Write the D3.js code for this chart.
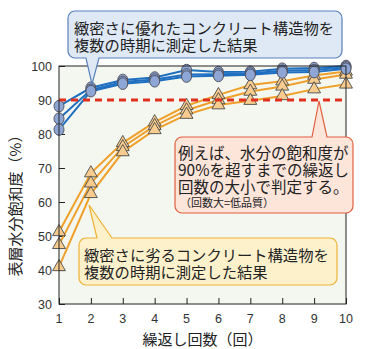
<!DOCTYPE html>
<html>
<head>
<meta charset="utf-8">
<script src="https://cdn.jsdelivr.net/npm/d3@7"></script>
<style>
  body { margin: 0; background: #fff; }
  svg { display: block; }
</style>
</head>
<body>
<svg class="chart" width="365" height="349"></svg>
<script>
// data
var cycles = [1, 2, 3, 4, 5, 6, 7, 8, 9, 10];
var goodA = [88.2, 93.6, 95.9, 96.6, 98.8, 98.2, 98.3, 99.2, 99.4, 100];
var goodB = [84.5, 93.0, 95.3, 96.0, 97.5, 97.6, 97.8, 98.6, 98.8, 99.6];
var goodC = [81.3, 92.6, 94.8, 95.5, 96.9, 97.1, 97.4, 98.1, 98.2, 99.2];
var poorA = [51.2, 68.5, 77.4, 83.5, 88.3, 91.5, 94.4, 95.5, 97.2, 98.4];
var poorB = [47.4, 65.5, 76.2, 82.4, 87.0, 90.0, 92.5, 94.0, 96.0, 97.5];
var poorC = [40.9, 62.4, 74.7, 81.2, 85.7, 88.5, 89.8, 91.2, 93.2, 94.6];
var yTicks = [30, 40, 50, 60, 70, 80, 90, 100];
var threshold = 90;

var jp = "'Noto Sans CJK JP', sans-serif";
var num = "'Liberation Sans', Arial, sans-serif";

var svg = d3.select(".chart");

var plotL = 59, plotR = 346, plotT = 66, plotB = 304;

var x = d3.scaleLinear().domain([1, 10]).range([plotL, plotR]);
var y = d3.scaleLinear().domain([30, 100]).range([plotB, plotT]);

// plot background
svg.append("rect")
    .attr("x", plotL)
    .attr("y", plotT)
    .attr("width", plotR - plotL)
    .attr("height", plotB - plotT)
    .attr("fill", "#f3f7ef");

// axes (ticks inward)
svg.append("g")
    .attr("transform", `translate(0, ${plotB})`)
    .call(d3.axisTop(x).tickValues(cycles).tickSize(6).tickFormat(""))
    .call(g => g.select(".domain").remove())
    .selectAll("line").attr("stroke", "#222");

svg.append("g")
    .attr("transform", `translate(${plotL}, 0)`)
    .call(d3.axisRight(y).tickValues(yTicks).tickSize(6).tickFormat(""))
    .call(g => g.select(".domain").remove())
    .selectAll("line").attr("stroke", "#222");

svg.selectAll(".xlab")
    .data(cycles)
    .join("text")
    .attr("class", "xlab")
    .attr("x", d => x(d))
    .attr("y", 323)
    .attr("text-anchor", "middle")
    .attr("font-family", num)
    .attr("font-size", "12.5px")
    .attr("fill", "#333")
    .text(d => d);

svg.selectAll(".ylab")
    .data(yTicks)
    .join("text")
    .attr("class", "ylab")
    .attr("x", 52)
    .attr("y", d => y(d) + 4.5)
    .attr("text-anchor", "end")
    .attr("font-family", num)
    .attr("font-size", "12.5px")
    .attr("fill", "#333")
    .text(d => d);

svg.append("text")
    .attr("x", (plotL + plotR) / 2)
    .attr("y", 345)
    .attr("text-anchor", "middle")
    .attr("font-family", jp)
    .attr("font-size", "15px")
    .attr("fill", "#222")
    .text("繰返し回数（回）");

svg.append("text")
    .attr("transform", "translate(21, 202) rotate(-90)")
    .attr("text-anchor", "middle")
    .attr("font-family", jp)
    .attr("font-size", "15px")
    .attr("fill", "#222")
    .text("表層水分飽和度（%）");

var line = d3.line().x((d, i) => x(cycles[i])).y(d => y(d));

// poor concrete (orange)
[poorA, poorB, poorC].forEach(function (s) {
    svg.append("path")
        .attr("d", line(s))
        .attr("fill", "none")
        .attr("stroke", "#f0a02a")
        .attr("stroke-width", 2);
});
var tri = d3.symbol().type(d3.symbolTriangle).size(72);
[poorA, poorB, poorC].forEach(function (s) {
    svg.append("g").selectAll("path")
        .data(s)
        .join("path")
        .attr("d", tri)
        .attr("transform", (d, i) => `translate(${x(cycles[i])}, ${y(d)})`)
        .attr("fill", "#f8cc8e")
        .attr("stroke", "#4a4a4a")
        .attr("stroke-width", 0.9);
});

// good concrete (blue)
[goodA, goodB, goodC].forEach(function (s) {
    svg.append("path")
        .attr("d", line(s))
        .attr("fill", "none")
        .attr("stroke", "#1f6fc0")
        .attr("stroke-width", 2);
});
[goodA, goodB, goodC].forEach(function (s) {
    svg.append("g").selectAll("ellipse")
        .data(s)
        .join("ellipse")
        .attr("cx", (d, i) => x(cycles[i]))
        .attr("cy", d => y(d))
        .attr("rx", 5)
        .attr("ry", 5.8)
        .attr("fill", "#8ea6d6")
        .attr("stroke", "#4a4a55")
        .attr("stroke-width", 0.9);
});

// threshold line
svg.append("line")
    .attr("x1", plotL)
    .attr("x2", plotR)
    .attr("y1", y(threshold))
    .attr("y2", y(threshold))
    .attr("stroke", "#e0301e")
    .attr("stroke-width", 3)
    .attr("stroke-dasharray", "7,5");

// frame
svg.append("rect")
    .attr("x", plotL)
    .attr("y", plotT)
    .attr("width", plotR - plotL)
    .attr("height", plotB - plotT)
    .attr("fill", "none")
    .attr("stroke", "#222")
    .attr("stroke-width", 1);

// callout: rounded box with a pointer on top or bottom edge
function callout(bx, by, bw, bh, r, edge, t1, t2, tip) {
    var p = d3.path();
    var yTop = by, yBot = by + bh;
    p.moveTo(bx + r, yTop);
    if (edge === "top") {
        p.lineTo(t1, yTop);
        p.lineTo(tip[0], tip[1]);
        p.lineTo(t2, yTop);
    }
    p.lineTo(bx + bw - r, yTop);
    p.arcTo(bx + bw, yTop, bx + bw, yTop + r, r);
    p.lineTo(bx + bw, yBot - r);
    p.arcTo(bx + bw, yBot, bx + bw - r, yBot, r);
    if (edge === "bottom") {
        p.lineTo(t2, yBot);
        p.lineTo(tip[0], tip[1]);
        p.lineTo(t1, yBot);
    }
    p.lineTo(bx + r, yBot);
    p.arcTo(bx, yBot, bx, yBot - r, r);
    p.lineTo(bx, yTop + r);
    p.arcTo(bx, yTop, bx + r, yTop, r);
    p.closePath();
    return p.toString();
}

function addText(lines, x0, y0, dy, size) {
    lines.forEach(function (t, i) {
        svg.append("text")
            .attr("x", x0)
            .attr("y", y0 + i * dy)
            .attr("font-family", jp)
            .attr("font-size", size)
            .attr("fill", "#222")
            .text(t);
    });
}

// blue callout
svg.append("path")
    .attr("d", callout(68, 11, 274, 47, 7, "bottom", 86, 99, [92, 84]))
    .attr("fill", "#dfe9f6")
    .attr("stroke", "#5a80bd")
    .attr("stroke-width", 1.2);
addText(["緻密さに優れたコンクリート構造物を", "複数の時期に測定した結果"], 74, 34, 17, "15.3px");

// red callout
svg.append("path")
    .attr("d", callout(175, 137, 178, 76, 7, "top", 312, 327, [319, 101]))
    .attr("fill", "#fde5da")
    .attr("stroke", "#e0603f")
    .attr("stroke-width", 1.2);
addText(["例えば、水分の飽和度が", "90%を超すまでの繰返し", "回数の大小で判定する。"], 178, 159, 17, "15.5px");
addText(["（回数大=低品質）"], 180, 207, 0, "11px");

// orange callout
svg.append("path")
    .attr("d", callout(79, 238, 258, 47, 7, "top", 97, 112, [89, 205]))
    .attr("fill", "#fdf1cc")
    .attr("stroke", "#eeb234")
    .attr("stroke-width", 1.2);
addText(["緻密さに劣るコンクリート構造物を", "複数の時期に測定した結果"], 84, 261, 17, "15.3px");
</script>
</body>
</html>
